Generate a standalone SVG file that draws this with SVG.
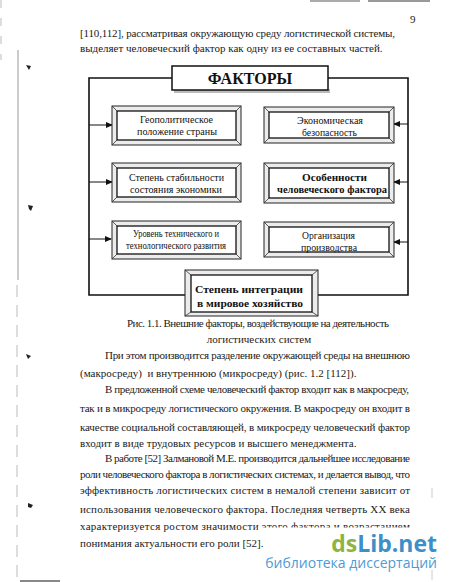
<svg xmlns="http://www.w3.org/2000/svg" width="450" height="582" viewBox="0 0 450 582">
<style>
.t{font-family:"Liberation Serif","Times New Roman",serif;font-size:11px;fill:#1a1a1a}
.bx{font-family:"Liberation Serif","Times New Roman",serif;font-size:10.5px;fill:#111;text-anchor:middle}
.bb{font-weight:bold}
.bo{fill:#ececec;stroke:#222;stroke-width:1}
.bi{fill:#fff;stroke:#111;stroke-width:1.3}
.bv{stroke:#333;stroke-width:0.8}
.cn{fill:none;stroke:#111;stroke-width:1.6}
.ar{fill:none;stroke:#111;stroke-width:1}
.mk{fill:#222}
</style>
<defs>
<marker id="ah" markerWidth="7" markerHeight="6" refX="6" refY="3" orient="auto" markerUnits="userSpaceOnUse">
<path d="M0,0 L7,3 L0,6 Z" fill="#111"/>
</marker>
<clipPath id="half"><rect x="0" y="510" width="258" height="30"/><rect x="258" y="510" width="192" height="17.5"/></clipPath>
</defs>
<rect width="450" height="582" fill="#fff"/>
<g id="margin">
<line x1="18" y1="50" x2="18" y2="280" stroke="#999" stroke-width="1"/>
<line x1="17" y1="285" x2="17" y2="582" stroke="#bbb" stroke-width="1" stroke-dasharray="12,8"/>
<line x1="1" y1="0" x2="1" y2="60" stroke="#bbb" stroke-width="1" stroke-dasharray="8,10"/>
<line x1="310" y1="1" x2="360" y2="1" stroke="#aaa" stroke-width="2"/>
<line x1="368" y1="1" x2="430" y2="1" stroke="#999" stroke-width="2"/>
<line x1="20" y1="581" x2="60" y2="581" stroke="#888" stroke-width="2"/>
<line x1="432" y1="488" x2="432" y2="498" stroke="#ccc" stroke-width="1"/>
<line x1="432" y1="570" x2="432" y2="580" stroke="#ccc" stroke-width="1"/>
<path class="mk" d="M26,65 L31,66 L29,70 Z"/>
<path class="mk" d="M28,205 L33,206 L31,211 L29,209 Z"/>
<path class="mk" d="M26,354 L31,356 L28,359 Z"/>
<path class="mk" d="M28,503 L33,505 L31,508 L28,507 Z"/>
</g>
<text class="t" x="410" y="23">9</text>
<text class="t" x="80" y="37" textLength="315" lengthAdjust="spacing">[110,112], рассматривая окружающую среду логистической системы,</text>
<text class="t" x="80" y="52">выделяет человеческий фактор как одну из ее составных частей.</text>
<g id="connectors">
<path class="cn" d="M172,78 H89 V295 H185"/>
<path class="cn" d="M328,78 H408 V295 H318"/>
<path class="ar" d="M89,125 H112" marker-end="url(#ah)"/>
<path class="ar" d="M89,182 H112" marker-end="url(#ah)"/>
<path class="ar" d="M89,239 H111" marker-end="url(#ah)"/>
<path class="ar" d="M408,124 H394" marker-end="url(#ah)"/>
<path class="ar" d="M408,182 H394" marker-end="url(#ah)"/>
<path class="ar" d="M408,242 H394" marker-end="url(#ah)"/>
</g>
<g id="factors">
<rect x="174" y="89" width="156" height="4" fill="#bbb"/>
<rect x="172" y="66" width="156" height="24" fill="#fff" stroke="#111" stroke-width="1.5"/>
<text x="250" y="84" font-family="Liberation Serif,serif" font-size="16" font-weight="bold" text-anchor="middle" fill="#111">ФАКТОРЫ</text>
</g>
<g id="geo">
<rect class="bo" x="112" y="106" width="129" height="39"/>
<rect class="bi" x="117" y="111" width="119" height="29"/>
<path class="bv" d="M112,106 L117,111 M241,106 L236,111 M112,145 L117,140 M241,145 L236,140"/>
<text class="bx" x="176.5" y="123" textLength="73" lengthAdjust="spacingAndGlyphs">Геополитическое</text>
<text class="bx" x="177" y="135" textLength="80" lengthAdjust="spacingAndGlyphs">положение страны</text>
</g>
<g id="stab">
<rect class="bo" x="112" y="163" width="129" height="39"/>
<rect class="bi" x="117" y="168" width="119" height="29"/>
<path class="bv" d="M112,163 L117,168 M241,163 L236,168 M112,202 L117,197 M241,202 L236,197"/>
<text class="bx" x="176.5" y="181" textLength="95" lengthAdjust="spacingAndGlyphs">Степень стабильности</text>
<text class="bx" x="176" y="193" textLength="92" lengthAdjust="spacingAndGlyphs">состояния экономики</text>
</g>
<g id="tech">
<rect class="bo" x="112" y="221" width="129" height="38"/>
<rect class="bi" x="117" y="226" width="119" height="28"/>
<path class="bv" d="M112,221 L117,226 M241,221 L236,226 M112,259 L117,254 M241,259 L236,254"/>
<text class="bx" x="176" y="237" textLength="86" lengthAdjust="spacingAndGlyphs">Уровень технического и</text>
<text class="bx" x="176" y="249" textLength="100" lengthAdjust="spacingAndGlyphs">технологического развития</text>
</g>
<g id="econ">
<rect class="bo" x="264" y="107" width="130" height="36"/>
<rect class="bi" x="269" y="112" width="120" height="26"/>
<path class="bv" d="M264,107 L269,112 M394,107 L389,112 M264,143 L269,138 M394,143 L389,138"/>
<text class="bx" x="330" y="124" textLength="66" lengthAdjust="spacingAndGlyphs">Экономическая</text>
<text class="bx" x="329.5" y="136" textLength="55" lengthAdjust="spacingAndGlyphs">безопасность</text>
</g>
<g id="human">
<rect class="bo" x="264" y="163" width="130" height="40"/>
<rect class="bi" x="269" y="168" width="120" height="30"/>
<path class="bv" d="M264,163 L269,168 M394,163 L389,168 M264,203 L269,198 M394,203 L389,198"/>
<text class="bx bb" x="334.5" y="181" textLength="65" lengthAdjust="spacingAndGlyphs">Особенности</text>
<text class="bx bb" x="332" y="193" textLength="110" lengthAdjust="spacingAndGlyphs">человеческого фактора</text>
</g>
<g id="org">
<rect class="bo" x="264" y="222" width="130" height="35"/>
<rect class="bi" x="269" y="227" width="120" height="25"/>
<path class="bv" d="M264,222 L269,227 M394,222 L389,227 M264,257 L269,252 M394,257 L389,252"/>
<text class="bx" x="328.5" y="239" textLength="53" lengthAdjust="spacingAndGlyphs">Организация</text>
<text class="bx" x="329" y="251" textLength="56" lengthAdjust="spacingAndGlyphs">производства</text>
</g>
<g id="integr">
<rect class="bo" x="185" y="270" width="133" height="46"/>
<rect class="bi" x="191" y="275" width="121" height="37"/>
<path class="bv" d="M185,270 L191,275 M318,270 L312,275 M185,316 L191,312 M318,316 L312,312"/>
<text class="bx bb" x="249" y="293" font-size="12.5" textLength="108" lengthAdjust="spacingAndGlyphs">Степень интеграции</text>
<text class="bx bb" x="250" y="307" font-size="12.5" textLength="106" lengthAdjust="spacingAndGlyphs">в мировое хозяйство</text>
</g>
<text class="t" x="127" y="327" textLength="262" lengthAdjust="spacing">Рис. 1.1. Внешние факторы, воздействующие на деятельность</text>
<text class="t" x="259" y="343" text-anchor="middle">логистических систем</text>
<text class="t" x="105" y="359" textLength="305" lengthAdjust="spacing">При этом производится разделение окружающей среды на внешнюю</text>
<text class="t" x="80" y="377" xml:space="preserve">(макросреду)  и внутреннюю (микросреду) (рис. 1.2 [112]).</text>
<text class="t" x="105" y="393" textLength="304" lengthAdjust="spacing">В предложенной схеме человеческий фактор входит как в макросреду,</text>
<text class="t" x="80" y="412" textLength="330" lengthAdjust="spacing">так и в микросреду логистического окружения. В макросреду он входит в</text>
<text class="t" x="80" y="431" textLength="330" lengthAdjust="spacing">качестве социальной составляющей, в микросреду человеческий фактор</text>
<text class="t" x="80" y="447">входит в виде трудовых ресурсов и высшего менеджмента.</text>
<text class="t" x="105" y="462" textLength="305" lengthAdjust="spacing">В работе [52] Залмановой М.Е. производится дальнейшее исследование</text>
<text class="t" x="80" y="478" textLength="330" lengthAdjust="spacing">роли человеческого фактора в логистических системах, и делается вывод, что</text>
<text class="t" x="80" y="494" textLength="330" lengthAdjust="spacing">эффективность логистических систем в немалой степени зависит от</text>
<text class="t" x="80" y="513" textLength="330" lengthAdjust="spacing">использования человеческого фактора. Последняя четверть XX века</text>
<text class="t" x="80" y="530" textLength="330" lengthAdjust="spacing" clip-path="url(#half)">характеризуется ростом значимости этого фактора и возрастанием</text>
<text class="t" x="80" y="547">понимания актуальности его роли [52].</text>
<g id="watermark">
<text x="437" y="552" font-family="Open Sans,DejaVu Sans,sans-serif" font-size="23" font-weight="bold" text-anchor="end"><tspan fill="#8fb440">ds</tspan><tspan fill="#3d8fc9">Lib.net</tspan></text>
<text x="437" y="568" font-family="Open Sans,DejaVu Sans,sans-serif" font-size="14" text-anchor="end" fill="#4d9bd3">библиотека диссертаций</text>
</g>
</svg>
